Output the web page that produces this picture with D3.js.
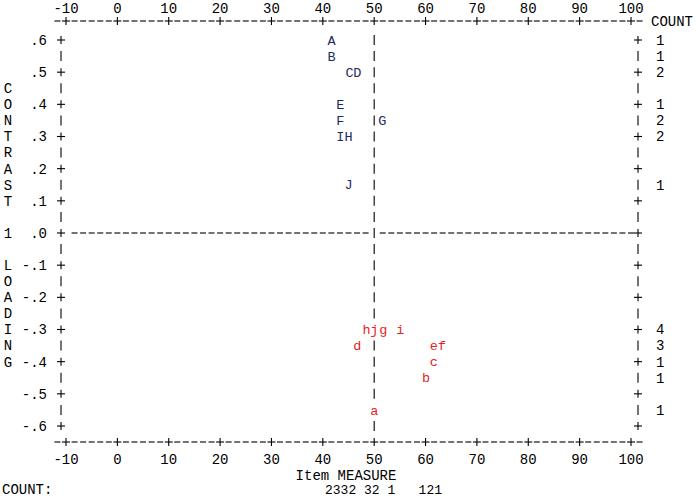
<!DOCTYPE html>
<html>
<head>
<meta charset="utf-8">
<script src="https://cdn.jsdelivr.net/npm/d3@7"></script>
<style>
  body { margin: 0; background: #fff; }
  text { font-family: "Liberation Mono", "Courier New", monospace; font-size: 14px; fill: #000; }
  .rule { stroke: #000; stroke-width: 1.1; }
</style>
</head>
<body>
<div id="chart"></div>
<script>
/**
 * CONSTANTS AND GLOBALS
 * */
const width = 697,
  height = 499;

// items with positive contrast loading (drawn in blue)
const upperLabels = ["A", "B", "C", "D", "E", "F", "G", "I", "H", "J"];
const upperMeasure = [41.7, 41.7, 45.2, 46.7, 43.4, 43.4, 51.6, 43.4, 45.0, 45.0];
const upperLoading = [0.6, 0.55, 0.5, 0.5, 0.4, 0.35, 0.35, 0.3, 0.3, 0.15];

// items with negative contrast loading (drawn in red)
const lowerLabels = ["h", "j", "g", "i", "d", "e", "f", "c", "b", "a"];
const lowerMeasure = [48.5, 50.0, 51.8, 55.1, 46.7, 61.6, 63.2, 61.6, 60.1, 50.0];
const lowerLoading = [-0.3, -0.3, -0.3, -0.3, -0.35, -0.35, -0.35, -0.4, -0.45, -0.55];

// tick labels
const xTicks = [-10, 0, 10, 20, 30, 40, 50, 60, 70, 80, 90, 100];
const yTicks = [0.6, 0.5, 0.4, 0.3, 0.2, 0.1, 0, -0.1, -0.2, -0.3, -0.4, -0.5, -0.6];
const yTickLabels = [".6", ".5", ".4", ".3", ".2", ".1", ".0", "-.1", "-.2", "-.3", "-.4", "-.5", "-.6"];

// vertical title, one character per half row starting at .45
const sideTitle = ["C", "O", "N", "T", "R", "A", "S", "T", "", "1", "", "L", "O", "A", "D", "I", "N", "G"];
const bottomCounts = "2332 32 1   121";

const colorUpper = "#1d2b5e",
  colorLower = "#e3241c";

// SCALES
const xScale = d3.scaleLinear().domain([-10, 100]).range([66, 631]);
const yScale = d3.scaleLinear().domain([0.6, -0.6]).range([40, 426]);

const step = 10 / 6; // one character column in measure units
const topY = 21,
  bottomY = 442;
const leftX = xScale(-10) - 5,
  rightX = xScale(100) + 7;

const items = upperLabels.map((d, i) => ({ label: d, x: upperMeasure[i], y: upperLoading[i], color: colorUpper }))
  .concat(lowerLabels.map((d, i) => ({ label: d, x: lowerMeasure[i], y: lowerLoading[i], color: colorLower })));

// half rows .6, .55, ... -.6
const rows = d3.range(25).map(i => +(0.6 - i * 0.05).toFixed(2));
const isTickRow = r => Math.abs(Math.round(r * 10) - r * 10) < 1e-6;

const svg = d3.select("#chart")
  .append("svg")
  .attr("width", width)
  .attr("height", height);

// small helpers for the ascii-ish rules
function plus(g, x, y) {
  g.append("line").attr("class", "rule").attr("x1", x - 4).attr("x2", x + 4).attr("y1", y).attr("y2", y);
  g.append("line").attr("class", "rule").attr("x1", x).attr("x2", x).attr("y1", y - 4).attr("y2", y + 4);
}
function dash(g, x, y) {
  g.append("line").attr("class", "rule").attr("x1", x - 3).attr("x2", x + 3).attr("y1", y).attr("y2", y);
}
function bar(g, x, y) {
  g.append("line").attr("class", "rule").attr("x1", x).attr("x2", x).attr("y1", y - 5).attr("y2", y + 5);
}

// X AXES (top and bottom)
const axes = svg.append("g");
const cols = d3.range(-1, 68);
[topY, bottomY].forEach(y => {
  cols.forEach(k => {
    const x = xScale(-10 + k * step);
    if (k >= 0 && k <= 66 && k % 6 === 0) plus(axes, x, y);
    else dash(axes, x, y);
  });
});

svg.append("g").selectAll("text")
  .data(xTicks)
  .join("text")
  .attr("x", d => xScale(d))
  .attr("y", 8)
  .attr("dy", "0.35em")
  .attr("text-anchor", "middle")
  .text(d => d);

svg.append("g").selectAll("text")
  .data(xTicks)
  .join("text")
  .attr("x", d => xScale(d))
  .attr("y", 459)
  .attr("dy", "0.35em")
  .attr("text-anchor", "middle")
  .text(d => d);

// FRAME (left / right)
const frame = svg.append("g");
rows.forEach(r => {
  [leftX, rightX].forEach(x => {
    if (isTickRow(r)) plus(frame, x, yScale(r));
    else bar(frame, x, yScale(r));
  });
});

// zero line
d3.range(1, 67).forEach(k => {
  const x = xScale(-10 + k * step);
  if (Math.abs(x - xScale(50)) > 3 && x < rightX - 5) dash(frame, x, yScale(0));
});

// vertical line at 50, left open where an item sits on it
rows.forEach(r => {
  const taken = items.some(d => Math.abs(d.y - r) < 0.01 && Math.abs(d.x - 50) < step / 2);
  if (!taken) bar(frame, xScale(50), yScale(r));
});

// Y tick labels
svg.append("g").selectAll("text")
  .data(yTicks)
  .join("text")
  .attr("x", 47)
  .attr("y", d => yScale(d))
  .attr("dy", "0.35em")
  .attr("text-anchor", "end")
  .text((d, i) => yTickLabels[i]);

// side title
svg.append("g").selectAll("text")
  .data(sideTitle)
  .join("text")
  .attr("x", 8)
  .attr("y", (d, i) => yScale(0.45 - i * 0.05))
  .attr("dy", "0.35em")
  .attr("text-anchor", "middle")
  .text(d => d);

// ITEM LETTERS
svg.append("g").selectAll("text")
  .data(items)
  .join("text")
  .attr("x", d => xScale(d.x))
  .attr("y", d => yScale(d.y))
  .attr("dy", "0.35em")
  .attr("text-anchor", "middle")
  .style("fill", d => d.color)
  .style("font-size", "13.5px")
  .text(d => d.label);

// COUNT column on the right
const rowCounts = d3.rollups(items, v => v.length, d => d.y.toFixed(2));
svg.append("text").attr("x", 651).attr("y", topY).attr("dy", "0.35em").text("COUNT");
svg.append("g").selectAll("text")
  .data(rowCounts)
  .join("text")
  .attr("x", 656)
  .attr("y", d => yScale(+d[0]))
  .attr("dy", "0.35em")
  .text(d => d[1]);

// bottom titles
svg.append("text")
  .attr("x", 346)
  .attr("y", 475)
  .attr("dy", "0.35em")
  .attr("text-anchor", "middle")
  .text("Item MEASURE");

svg.append("text").attr("x", 2).attr("y", 489).attr("dy", "0.35em").text("COUNT:");
svg.append("text")
  .attr("x", 325)
  .attr("y", 489)
  .attr("dy", "0.35em")
  .style("white-space", "pre")
  .style("font-size", "13px")
  .attr("xml:space", "preserve")
  .text(bottomCounts);
</script>
</body>
</html>
